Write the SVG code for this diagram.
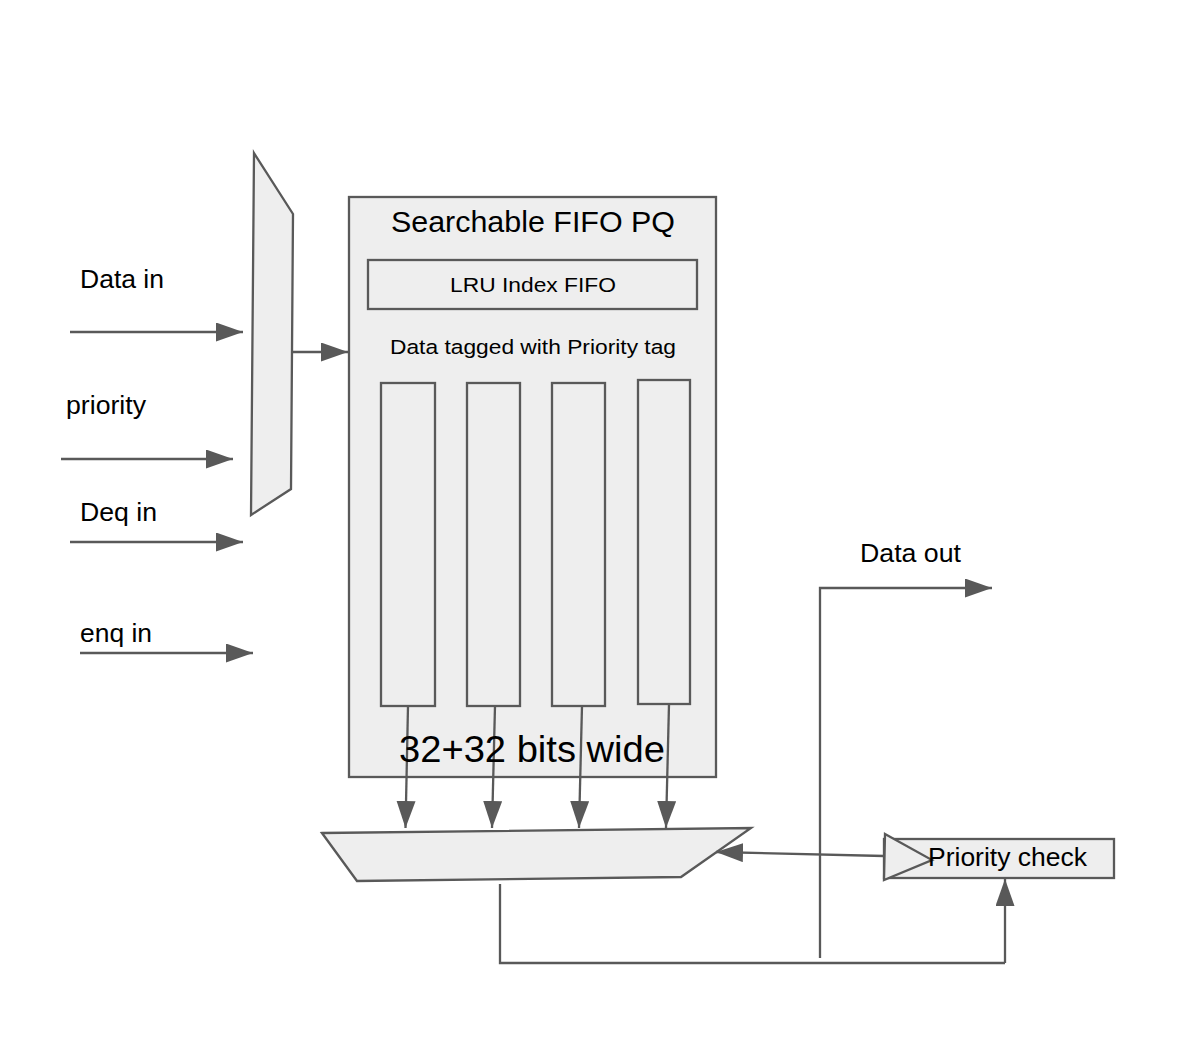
<svg xmlns="http://www.w3.org/2000/svg" width="1202" height="1039" viewBox="0 0 1202 1039">
<style>
.shape{fill:#eeeeee;stroke:#595959;stroke-width:2.3}
.line{fill:none;stroke:#595959;stroke-width:2.3}
.arr{fill:none;stroke:#595959;stroke-width:2.3;marker-end:url(#ah)}
text{font-family:"Liberation Sans",Arial,sans-serif;fill:#000000}
</style>
<defs>
<marker id="ah" markerUnits="userSpaceOnUse" markerWidth="28" markerHeight="20" refX="27" refY="9.5" orient="auto">
<path d="M0,0 L27,9.5 L0,19 z" fill="#595959"/>
</marker>
</defs>
<rect width="1202" height="1039" fill="#ffffff"/>
<g id="input-mux">
<polygon class="shape" points="254,153 293,214 291,489 251,515"/>
</g>
<g id="fifo-pq">
<rect class="shape" x="349" y="197" width="367" height="580"/>
<text x="391" y="232" font-size="29.5" textLength="284" lengthAdjust="spacingAndGlyphs">Searchable FIFO PQ</text>
<text x="390" y="354" font-size="20.5" textLength="286" lengthAdjust="spacingAndGlyphs">Data tagged with Priority tag</text>
</g>
<g id="lru-index-fifo">
<rect class="shape" x="368" y="260" width="329" height="49"/>
<text x="450" y="292" font-size="19.5" textLength="166" lengthAdjust="spacingAndGlyphs">LRU Index FIFO</text>
</g>
<g id="col1"><rect class="shape" x="381" y="383" width="54" height="323"/></g>
<g id="col2"><rect class="shape" x="467" y="383" width="53" height="323"/></g>
<g id="col3"><rect class="shape" x="552" y="383" width="53" height="323"/></g>
<g id="col4"><rect class="shape" x="638" y="380" width="52" height="324"/></g>
<g id="output-mux">
<polygon class="shape" points="322,833 751,828 681,877 357,881"/>
</g>
<g id="priority-check">
<rect class="shape" x="884" y="839" width="230" height="39"/>
<polygon class="shape" points="885,834 932,860 884,880"/>
<text x="928" y="866" font-size="25.5" textLength="159" lengthAdjust="spacingAndGlyphs">Priority check</text>
</g>
<g id="connectors">
<line class="arr" x1="70" y1="332" x2="243" y2="332"/>
<line class="arr" x1="61" y1="459" x2="233" y2="459"/>
<line class="arr" x1="70" y1="542" x2="243" y2="542"/>
<line class="arr" x1="80" y1="653" x2="253" y2="653"/>
<line class="arr" x1="293" y1="352" x2="348" y2="352"/>
<line class="arr" x1="408" y1="706" x2="405.5" y2="828"/>
<line class="arr" x1="495" y1="706" x2="492" y2="828"/>
<line class="arr" x1="582" y1="706" x2="579" y2="828"/>
<line class="arr" x1="669" y1="704" x2="666" y2="828"/>
<line class="arr" x1="884" y1="856" x2="716" y2="852"/>
<polyline class="line" points="500,884 500,963 1005,963"/>
<line class="arr" x1="1005" y1="963" x2="1005" y2="879"/>
<polyline class="arr" points="820,958 820,588 992,588"/>
</g>
<g id="labels">
<text x="80" y="288" font-size="25.5" textLength="84" lengthAdjust="spacingAndGlyphs">Data in</text>
<text x="66" y="414" font-size="25.5" textLength="80" lengthAdjust="spacingAndGlyphs">priority</text>
<text x="80" y="521" font-size="25.5" textLength="77" lengthAdjust="spacingAndGlyphs">Deq in</text>
<text x="80" y="642" font-size="25.5" textLength="72" lengthAdjust="spacingAndGlyphs">enq in</text>
<text x="860" y="562" font-size="25.5" textLength="101" lengthAdjust="spacingAndGlyphs">Data out</text>
<text x="399" y="762" font-size="37" textLength="266" lengthAdjust="spacingAndGlyphs">32+32 bits wide</text>
</g>
</svg>
